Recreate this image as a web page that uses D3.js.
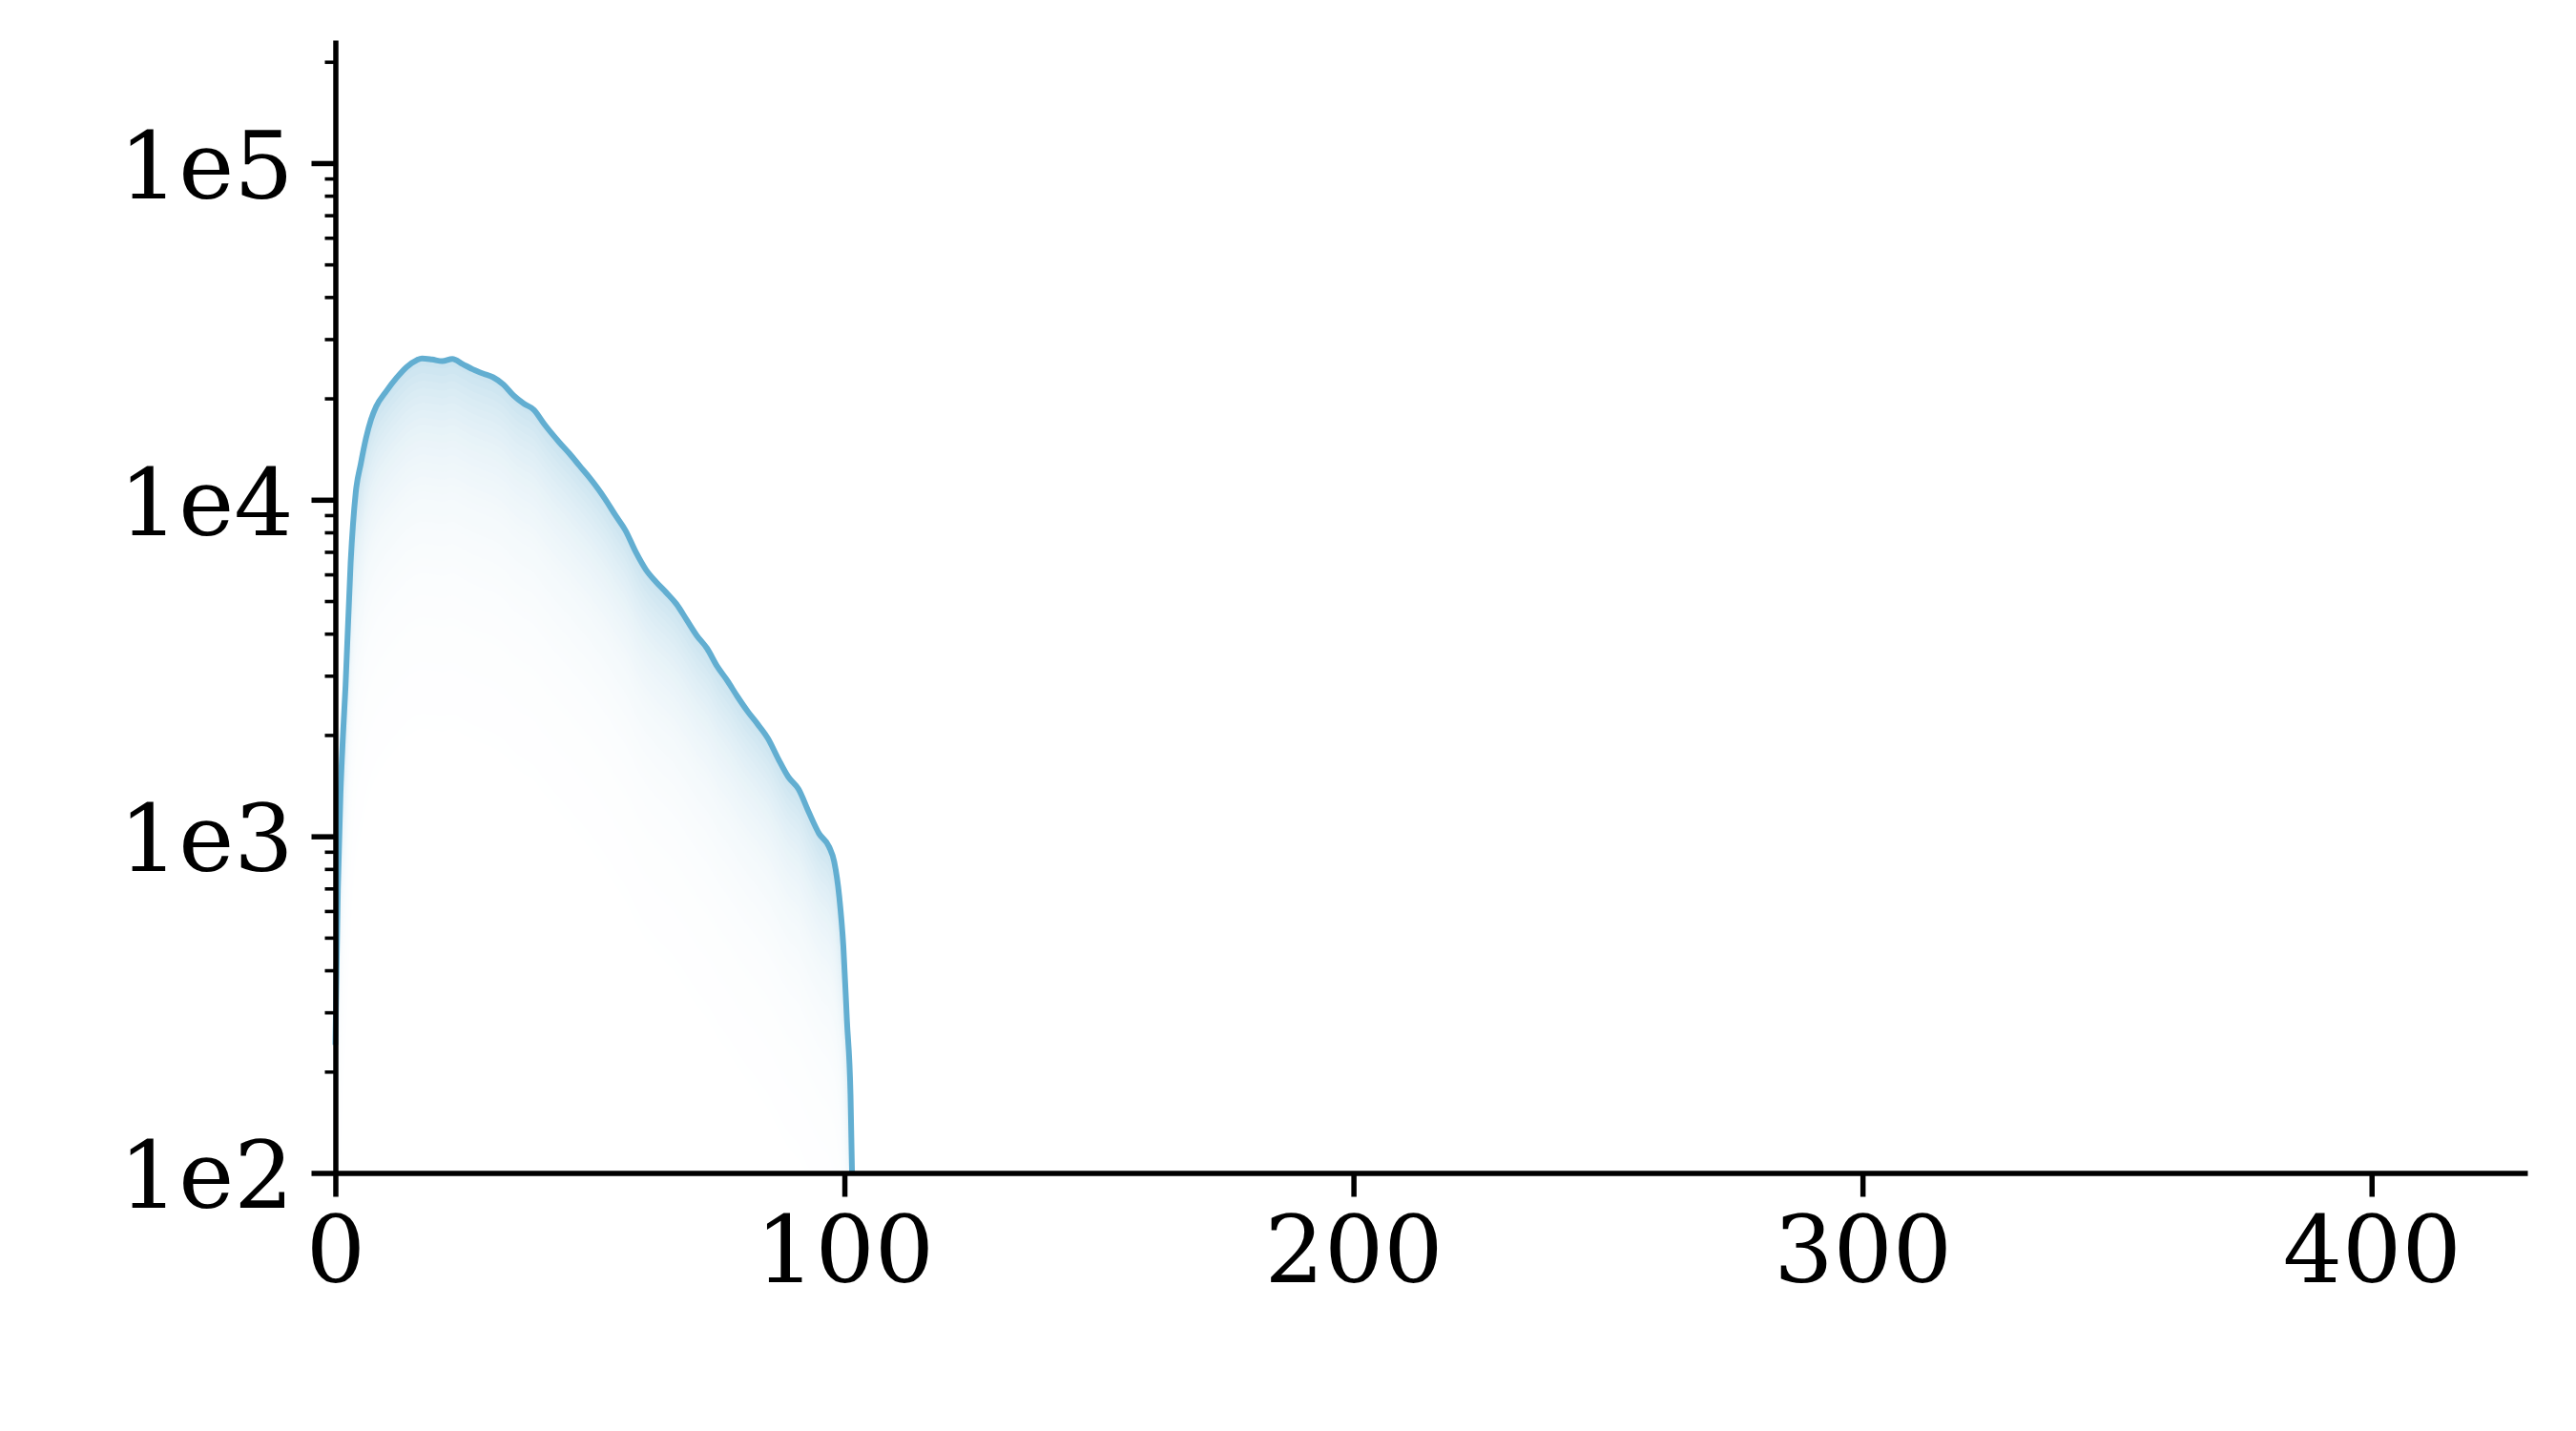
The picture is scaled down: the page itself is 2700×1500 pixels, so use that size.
<!DOCTYPE html>
<html>
<head>
<meta charset="utf-8">
<script src="https://cdn.jsdelivr.net/npm/d3@7"></script>
<style>
  html, body { margin: 0; padding: 0; background: #fff; }
  svg { display: block; }
  .axis text { font-family: "DejaVu Serif", serif; fill: #000; }
</style>
</head>
<body>
<svg id="chart" width="2700" height="1500"></svg>
<script>
// curve: position and count
var xVals = [0, 0.5, 1, 1.5, 2, 3, 4, 5, 6, 7, 8, 10, 12, 14, 16, 17, 19, 21, 23, 25,
    27, 29, 31, 33, 35, 37, 39, 41, 44, 46, 48, 50, 53, 55, 57, 59, 61, 63, 65, 67,
    69, 71, 73, 75, 77, 79, 81, 83, 85, 87, 89, 91, 93, 95, 97, 98, 99, 99.8, 100.5, 101.2, 101.5];
var counts = [240, 700, 1330, 2000, 2800, 6500, 10500, 12800, 15200, 17300, 18900, 21000, 23000, 24800, 26000, 26300, 26100, 25800, 26200, 25300,
    24400, 23700, 23100, 22000, 20400, 19300, 18500, 16800, 14800, 13700, 12600, 11600, 10050, 9000, 8100, 7000, 6200, 5700, 5300, 4900,
    4400, 3950, 3620, 3200, 2900, 2600, 2350, 2150, 1950, 1700, 1500, 1380, 1180, 1020, 930, 840, 660, 470, 283, 171, 100];
var xTicks = [0, 100, 200, 300, 400];
var yTicks = [1e2, 1e3, 1e4, 1e5];
var yTickLabels = ["1e2", "1e3", "1e4", "1e5"];

var lineColor = "#62aed1";

var svg = d3.select("#chart");
var x = d3.scaleLinear().domain([0, 430.6]).range([351.5, 2649]);
var y = d3.scaleLog().domain([100, 2.32e5]).range([1229.5, 42]).clamp(true);

var pts = xVals.map(function (v, i) { return { x: v, v: counts[i] }; });

// soft shading under the curve: nested bands, deepest (palest) first
var nLayers = 50, step = 0.022, tau = 0.26, topAlpha = 0.33;
var tint = d3.interpolateRgb("#ffffff", lineColor);
var shade = svg.append("g");
for (var k = nLayers; k >= 1; k--) {
    var depth = k * step;
    var f = Math.pow(10, -depth);
    var area = d3.area()
        .curve(d3.curveMonotoneX)
        .x(function (d) { return x(d.x); })
        .y0(function (d) { return y(Math.max(d.v * f, 100)); })
        .y1(function (d) { return y(d.v); });
    shade.append("path")
        .datum(pts)
        .attr("d", area)
        .attr("fill", tint(topAlpha * Math.exp(-(depth - step) / tau)));
}

var line = d3.line()
    .curve(d3.curveMonotoneX)
    .x(function (d) { return x(d.x); })
    .y(function (d) { return y(d.v); });

svg.append("path")
    .datum(pts)
    .attr("d", line)
    .attr("fill", "none")
    .attr("stroke", lineColor)
    .attr("stroke-width", 6);

// axes
var xAxis = svg.append("g")
    .attr("class", "axis")
    .attr("transform", "translate(0," + y.range()[0] + ")")
    .call(d3.axisBottom(x).tickValues(xTicks).tickSize(25).tickSizeOuter(0).tickFormat(d3.format("d")));
xAxis.selectAll("text").attr("y", 114).attr("dy", 0).attr("font-size", 98);

var minorY = [];
[100, 1000, 10000, 100000].forEach(function (dec) {
    for (var m = 2; m <= 9; m++) {
        if (dec * m <= 2.32e5) minorY.push(dec * m);
    }
});
svg.append("g")
    .attr("class", "axis minor")
    .attr("transform", "translate(" + x.range()[0] + ",0)")
    .call(d3.axisLeft(y).tickValues(minorY).tickSize(11).tickFormat(""))
    .call(function (g) { g.select(".domain").remove(); });

var yAxis = svg.append("g")
    .attr("class", "axis")
    .attr("transform", "translate(" + x.range()[0] + ",0)")
    .call(d3.axisLeft(y).tickValues(yTicks).tickSize(25).tickSizeOuter(0)
        .tickFormat(function (d, i) { return yTickLabels[i]; }));
yAxis.selectAll("text").attr("x", -44).attr("dy", "0.37em").attr("font-size", 98);

svg.selectAll(".axis .domain").attr("stroke", "#000").attr("stroke-width", 5.5);
svg.selectAll(".axis .tick line").attr("stroke", "#000").attr("stroke-width", 5.5);
svg.selectAll(".minor .tick line").attr("stroke-width", 3.6);
</script>
</body>
</html>
